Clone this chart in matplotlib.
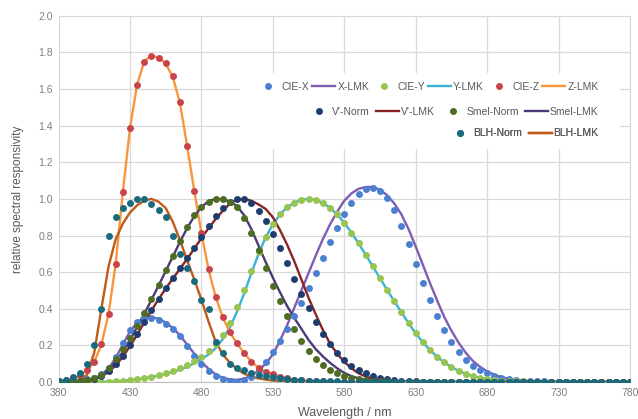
import matplotlib.pyplot as plt
import numpy as np
from matplotlib.patches import Rectangle

wavelength = np.arange(380, 781, 5)

# dots: normalised reference functions
cie_x = [0.0014, 0.0022, 0.0042, 0.0077, 0.0143, 0.0232, 0.0435, 0.0776, 0.1344, 0.2148,
         0.2839, 0.3285, 0.3483, 0.3481, 0.3362, 0.3187, 0.2908, 0.2511, 0.1954, 0.1421,
         0.0956, 0.0580, 0.0320, 0.0147, 0.0049, 0.0024, 0.0093, 0.0291, 0.0633, 0.1096,
         0.1655, 0.2257, 0.2904, 0.3597, 0.4334, 0.5121, 0.5945, 0.6784, 0.7621, 0.8425,
         0.9163, 0.9786, 1.0263, 1.0567, 1.0622, 1.0456, 1.0026, 0.9384, 0.8544, 0.7514,
         0.6424, 0.5419, 0.4479, 0.3608, 0.2835, 0.2187, 0.1649, 0.1212, 0.0874, 0.0636,
         0.0468, 0.0329, 0.0227, 0.0158, 0.0114, 0.0081, 0.0058, 0.0041, 0.0029, 0.0020,
         0.0014, 0.0010, 0.0007, 0.0005, 0.0003, 0.0002, 0.0002, 0.0001, 0.0001, 0.0001,
         0.0000]
cie_y = [0.0000, 0.0001, 0.0001, 0.0002, 0.0004, 0.0006, 0.0012, 0.0022, 0.0040, 0.0073,
         0.0116, 0.0168, 0.0230, 0.0298, 0.0380, 0.0480, 0.0600, 0.0739, 0.0910, 0.1126,
         0.1390, 0.1693, 0.2080, 0.2586, 0.3230, 0.4073, 0.5030, 0.6082, 0.7100, 0.7932,
         0.8620, 0.9149, 0.9540, 0.9803, 0.9950, 1.0000, 0.9950, 0.9786, 0.9520, 0.9154,
         0.8700, 0.8163, 0.7570, 0.6949, 0.6310, 0.5668, 0.5030, 0.4412, 0.3810, 0.3210,
         0.2650, 0.2170, 0.1750, 0.1382, 0.1070, 0.0816, 0.0610, 0.0446, 0.0320, 0.0232,
         0.0170, 0.0119, 0.0082, 0.0057, 0.0041, 0.0029, 0.0021, 0.0015, 0.0010, 0.0007,
         0.0005, 0.0004, 0.0002, 0.0002, 0.0001, 0.0001, 0.0001, 0.0000, 0.0000, 0.0000,
         0.0000]
cie_z = [0.0065, 0.0106, 0.0201, 0.0362, 0.0679, 0.1102, 0.2074, 0.3713, 0.6456, 1.0391,
         1.3856, 1.6230, 1.7471, 1.7826, 1.7721, 1.7441, 1.6692, 1.5281, 1.2876, 1.0419,
         0.8130, 0.6162, 0.4652, 0.3533, 0.2720, 0.2123, 0.1582, 0.1117, 0.0783, 0.0573,
         0.0422, 0.0298, 0.0203, 0.0134, 0.0088, 0.0058, 0.0039, 0.0028, 0.0021, 0.0018,
         0.0017, 0.0014, 0.0011, 0.0010, 0.0008, 0.0006, 0.0003, 0.0002, 0.0002, 0.0001,
         0.0000, 0.0000, 0.0000, 0.0000, 0.0000, 0.0000, 0.0000, 0.0000, 0.0000, 0.0000,
         0.0000, 0.0000, 0.0000, 0.0000, 0.0000, 0.0000, 0.0000, 0.0000, 0.0000, 0.0000,
         0.0000, 0.0000, 0.0000, 0.0000, 0.0000, 0.0000, 0.0000, 0.0000, 0.0000, 0.0000,
         0.0000]
v_norm = [0.0006, 0.0011, 0.0022, 0.0045, 0.0093, 0.0185, 0.0348, 0.0604, 0.0966, 0.1436,
          0.1998, 0.2625, 0.3281, 0.3931, 0.4550, 0.5130, 0.5670, 0.6200, 0.6760, 0.7340,
          0.7930, 0.8510, 0.9040, 0.9490, 0.9820, 0.9980, 0.9970, 0.9750, 0.9350, 0.8800,
          0.8110, 0.7330, 0.6500, 0.5640, 0.4810, 0.4020, 0.3288, 0.2639, 0.2076, 0.1602,
          0.1212, 0.0899, 0.0655, 0.0469, 0.0332, 0.0231, 0.0159, 0.0109, 0.0074, 0.0050,
          0.0033, 0.0022, 0.0015, 0.0010, 0.0007, 0.0005, 0.0003, 0.0002, 0.0001, 0.0001,
          0.0001, 0.0000, 0.0000, 0.0000, 0.0000, 0.0000, 0.0000, 0.0000, 0.0000, 0.0000,
          0.0000, 0.0000, 0.0000, 0.0000, 0.0000, 0.0000, 0.0000, 0.0000, 0.0000, 0.0000,
          0.0000]
smel_norm = [0.0009, 0.0017, 0.0031, 0.0061, 0.0118, 0.0222, 0.0400, 0.0780, 0.1250, 0.1780,
             0.2380, 0.3050, 0.3760, 0.4520, 0.5300, 0.6100, 0.6900, 0.7700, 0.8450, 0.9100,
             0.9550, 0.9850, 1.0000, 0.9980, 0.9850, 0.9550, 0.8950, 0.8150, 0.7200, 0.6200,
             0.5250, 0.4400, 0.3600, 0.2900, 0.2250, 0.1700, 0.1280, 0.0950, 0.0680, 0.0470,
             0.0320, 0.0220, 0.0150, 0.0100, 0.0070, 0.0050, 0.0035, 0.0025, 0.0017, 0.0012,
             0.0008, 0.0006, 0.0004, 0.0003, 0.0002, 0.0001, 0.0001, 0.0001, 0.0000, 0.0000,
             0.0000, 0.0000, 0.0000, 0.0000, 0.0000, 0.0000, 0.0000, 0.0000, 0.0000, 0.0000,
             0.0000, 0.0000, 0.0000, 0.0000, 0.0000, 0.0000, 0.0000, 0.0000, 0.0000, 0.0000,
             0.0000]
blh_norm = [0.0060, 0.0120, 0.0250, 0.0500, 0.1000, 0.2000, 0.4000, 0.8000, 0.9000, 0.9500,
            0.9800, 1.0000, 1.0000, 0.9700, 0.9400, 0.9000, 0.8000, 0.7000, 0.6200, 0.5500,
            0.4500, 0.4000, 0.2200, 0.1600, 0.1000, 0.0790, 0.0630, 0.0500, 0.0400, 0.0320,
            0.0250, 0.0200, 0.0160, 0.0130, 0.0100, 0.0080, 0.0060, 0.0050, 0.0040, 0.0030,
            0.0020, 0.0016, 0.0013, 0.0010, 0.0010, 0.0010, 0.0010, 0.0010, 0.0010, 0.0010,
            0.0010, 0.0010, 0.0010, 0.0010, 0.0010, 0.0010, 0.0010, 0.0010, 0.0010, 0.0010,
            0.0010, 0.0010, 0.0010, 0.0010, 0.0010, 0.0010, 0.0010, 0.0010, 0.0010, 0.0010,
            0.0010, 0.0010, 0.0010, 0.0010, 0.0010, 0.0010, 0.0010, 0.0010, 0.0010, 0.0010,
            0.0010]

# lines: measured LMK detector responsivities
x_lmk = [0.0010, 0.0015, 0.0030, 0.0060, 0.0110, 0.0200, 0.0400, 0.0750, 0.1300, 0.2050,
         0.2750, 0.3250, 0.3500, 0.3550, 0.3450, 0.3250, 0.2950, 0.2550, 0.2050, 0.1550,
         0.1100, 0.0720, 0.0420, 0.0230, 0.0140, 0.0120, 0.0180, 0.0350, 0.0620, 0.1000,
         0.1500, 0.2250, 0.3100, 0.4050, 0.5000, 0.5950, 0.6900, 0.7800, 0.8600, 0.9300,
         0.9900, 1.0300, 1.0550, 1.0650, 1.0650, 1.0500, 1.0200, 0.9750, 0.9150, 0.8350,
         0.7400, 0.6400, 0.5400, 0.4450, 0.3550, 0.2800, 0.2150, 0.1600, 0.1150, 0.0830,
         0.0580, 0.0400, 0.0270, 0.0180, 0.0120, 0.0080, 0.0050, 0.0035, 0.0025, 0.0017,
         0.0012, 0.0008, 0.0005, 0.0004, 0.0003, 0.0002, 0.0001, 0.0001, 0.0001, 0.0000,
         0.0000]
y_lmk = [0.0000, 0.0000, 0.0001, 0.0001, 0.0003, 0.0005, 0.0010, 0.0019, 0.0035, 0.0065,
         0.0100, 0.0150, 0.0210, 0.0270, 0.0350, 0.0440, 0.0550, 0.0680, 0.0830, 0.1020,
         0.1250, 0.1500, 0.1850, 0.2350, 0.3000, 0.3850, 0.4850, 0.5950, 0.7000, 0.7900,
         0.8600, 0.9150, 0.9540, 0.9800, 0.9950, 1.0000, 0.9950, 0.9790, 0.9520, 0.9150,
         0.8700, 0.8160, 0.7570, 0.6950, 0.6310, 0.5670, 0.5030, 0.4410, 0.3810, 0.3210,
         0.2650, 0.2170, 0.1750, 0.1380, 0.1070, 0.0816, 0.0610, 0.0446, 0.0320, 0.0232,
         0.0170, 0.0119, 0.0082, 0.0057, 0.0041, 0.0029, 0.0021, 0.0015, 0.0010, 0.0007,
         0.0005, 0.0004, 0.0002, 0.0002, 0.0001, 0.0001, 0.0001, 0.0000, 0.0000, 0.0000,
         0.0000]
z_lmk = [0.0050, 0.0090, 0.0180, 0.0340, 0.0650, 0.1080, 0.2050, 0.3700, 0.6450, 1.0350,
         1.3850, 1.6250, 1.7500, 1.7850, 1.7700, 1.7400, 1.6650, 1.5250, 1.2900, 1.0450,
         0.8150, 0.6150, 0.4650, 0.3520, 0.2700, 0.2100, 0.1570, 0.1110, 0.0780, 0.0570,
         0.0420, 0.0300, 0.0200, 0.0130, 0.0090, 0.0060, 0.0040, 0.0030, 0.0020, 0.0015,
         0.0012, 0.0010, 0.0008, 0.0006, 0.0005, 0.0004, 0.0003, 0.0002, 0.0001, 0.0001,
         0.0000, 0.0000, 0.0000, 0.0000, 0.0000, 0.0000, 0.0000, 0.0000, 0.0000, 0.0000,
         0.0000, 0.0000, 0.0000, 0.0000, 0.0000, 0.0000, 0.0000, 0.0000, 0.0000, 0.0000,
         0.0000, 0.0000, 0.0000, 0.0000, 0.0000, 0.0000, 0.0000, 0.0000, 0.0000, 0.0000,
         0.0000]
v_lmk = [0.0003, 0.0006, 0.0013, 0.0030, 0.0070, 0.0150, 0.0300, 0.0550, 0.0900, 0.1380,
         0.1950, 0.2580, 0.3250, 0.3900, 0.4520, 0.5100, 0.5650, 0.6180, 0.6720, 0.7280,
         0.7850, 0.8400, 0.8900, 0.9350, 0.9750, 0.9950, 1.0000, 0.9900, 0.9700, 0.9450,
         0.9000, 0.8300, 0.7500, 0.6600, 0.5600, 0.4600, 0.3700, 0.2850, 0.2100, 0.1550,
         0.1100, 0.0750, 0.0480, 0.0300, 0.0180, 0.0100, 0.0060, 0.0030, 0.0020, 0.0010,
         0.0005, 0.0003, 0.0002, 0.0001, 0.0000, 0.0000, 0.0000, 0.0000, 0.0000, 0.0000,
         0.0000, 0.0000, 0.0000, 0.0000, 0.0000, 0.0000, 0.0000, 0.0000, 0.0000, 0.0000,
         0.0000, 0.0000, 0.0000, 0.0000, 0.0000, 0.0000, 0.0000, 0.0000, 0.0000, 0.0000,
         0.0000]
smel_lmk = [0.0005, 0.0010, 0.0020, 0.0040, 0.0085, 0.0170, 0.0330, 0.0650, 0.1100, 0.1650,
            0.2300, 0.3000, 0.3720, 0.4480, 0.5260, 0.6050, 0.6850, 0.7650, 0.8400, 0.9050,
            0.9550, 0.9880, 1.0000, 0.9980, 0.9850, 0.9600, 0.9100, 0.8350, 0.7450, 0.6550,
            0.5700, 0.4900, 0.4150, 0.3500, 0.2900, 0.2300, 0.1800, 0.1400, 0.1050, 0.0750,
            0.0500, 0.0320, 0.0200, 0.0120, 0.0070, 0.0040, 0.0025, 0.0015, 0.0010, 0.0005,
            0.0003, 0.0002, 0.0001, 0.0000, 0.0000, 0.0000, 0.0000, 0.0000, 0.0000, 0.0000,
            0.0000, 0.0000, 0.0000, 0.0000, 0.0000, 0.0000, 0.0000, 0.0000, 0.0000, 0.0000,
            0.0000, 0.0000, 0.0000, 0.0000, 0.0000, 0.0000, 0.0000, 0.0000, 0.0000, 0.0000,
            0.0000]
blh_lmk = [0.0000, 0.0000, 0.0010, 0.0080, 0.0400, 0.1600, 0.4000, 0.6300, 0.7800, 0.8650,
           0.9250, 0.9650, 0.9900, 1.0000, 0.9850, 0.9500, 0.8750, 0.7750, 0.6650, 0.5600,
           0.4500, 0.3300, 0.2200, 0.1500, 0.1050, 0.0700, 0.0450, 0.0300, 0.0200, 0.0130,
           0.0080, 0.0050, 0.0030, 0.0020, 0.0010, 0.0005, 0.0003, 0.0002, 0.0001, 0.0000,
           0.0000, 0.0000, 0.0000, 0.0000, 0.0000, 0.0000, 0.0000, 0.0000, 0.0000, 0.0000,
           0.0000, 0.0000, 0.0000, 0.0000, 0.0000, 0.0000, 0.0000, 0.0000, 0.0000, 0.0000,
           0.0000, 0.0000, 0.0000, 0.0000, 0.0000, 0.0000, 0.0000, 0.0000, 0.0000, 0.0000,
           0.0000, 0.0000, 0.0000, 0.0000, 0.0000, 0.0000, 0.0000, 0.0000, 0.0000, 0.0000,
           0.0000]

# (label, data, colour, kind) in legend order
series = [
    ('CIE-X', cie_x, '#4a80cf', 'dot'),
    ('X-LMK', x_lmk, '#7f5db0', 'line'),
    ('CIE-Y', cie_y, '#98c450', 'dot'),
    ('Y-LMK', y_lmk, '#3bb3d6', 'line'),
    ('CIE-Z', cie_z, '#c8444a', 'dot'),
    ('Z-LMK', z_lmk, '#f7963c', 'line'),
    ("V'-Norm", v_norm, '#1f3c6e', 'dot'),
    ("V'-LMK", v_lmk, '#8a2424', 'line'),
    ('Smel-Norm', smel_norm, '#4e6d22', 'dot'),
    ('Smel-LMK', smel_lmk, '#4c3a78', 'line'),
    ('BLH-Norm', blh_norm, '#1a6a7e', 'dot'),
    ('BLH-LMK', blh_lmk, '#c25a18', 'line'),
]

plt.rcParams['font.family'] = ['Liberation Sans', 'DejaVu Sans']

fig = plt.figure(figsize=(6.38, 4.19), dpi=100)
ax = fig.add_axes([0.0917, 0.0883, 0.8958, 0.874])

handles = []
for label, vals, col, kind in series:
    if kind == 'dot':
        h, = ax.plot(wavelength, vals, 'o', color=col, ms=5, mew=0, label=label, zorder=3)
    else:
        h, = ax.plot(wavelength, vals, '-', color=col, lw=1.7, label=label, zorder=2)
    handles.append(h)

ax.set_xlim(380, 780)
ax.set_ylim(0, 2.0)
ax.set_xticks(np.arange(380, 781, 50))
ax.set_yticks(np.arange(0, 2.01, 0.2))
ax.yaxis.set_major_formatter(plt.FormatStrFormatter('%.1f'))
ax.set_axisbelow(True)
ax.grid(True, color='#d9d9d9', lw=0.9)
ax.tick_params(length=0, labelsize=7.5, labelcolor='#7f7f7f', pad=4)
for s in ['top', 'right', 'left']:
    ax.spines[s].set_color('#d9d9d9')
ax.spines['bottom'].set_color('#bfbfbf')

ax.set_xlabel('Wavelength / nm', fontsize=9, color='#595959', labelpad=7)
ax.set_ylabel('relative spectral responsivity', fontsize=8.5, color='#595959', labelpad=10)

# white legend area
ax.add_patch(Rectangle((0.318, 0.635), 0.664, 0.21, transform=ax.transAxes,
                       facecolor='white', edgecolor='none', zorder=1))

rows = [(range(0, 6), 0.806, 0.3), (range(6, 10), 0.738, 0.6), (range(10, 12), 0.679, 0.6)]
for idx, ypos, colsp in rows:
    hs = [handles[i] for i in idx]
    leg = ax.legend(handles=hs, loc='center right', bbox_to_anchor=(0.945, ypos),
                    ncol=len(hs), frameon=False, fontsize=7.5, labelcolor='#595959',
                    handlelength=2.2, handletextpad=0.2, columnspacing=colsp,
                    borderpad=0, borderaxespad=0, numpoints=1)
    ax.add_artist(leg)

fig.savefig('out.png', dpi=100)
